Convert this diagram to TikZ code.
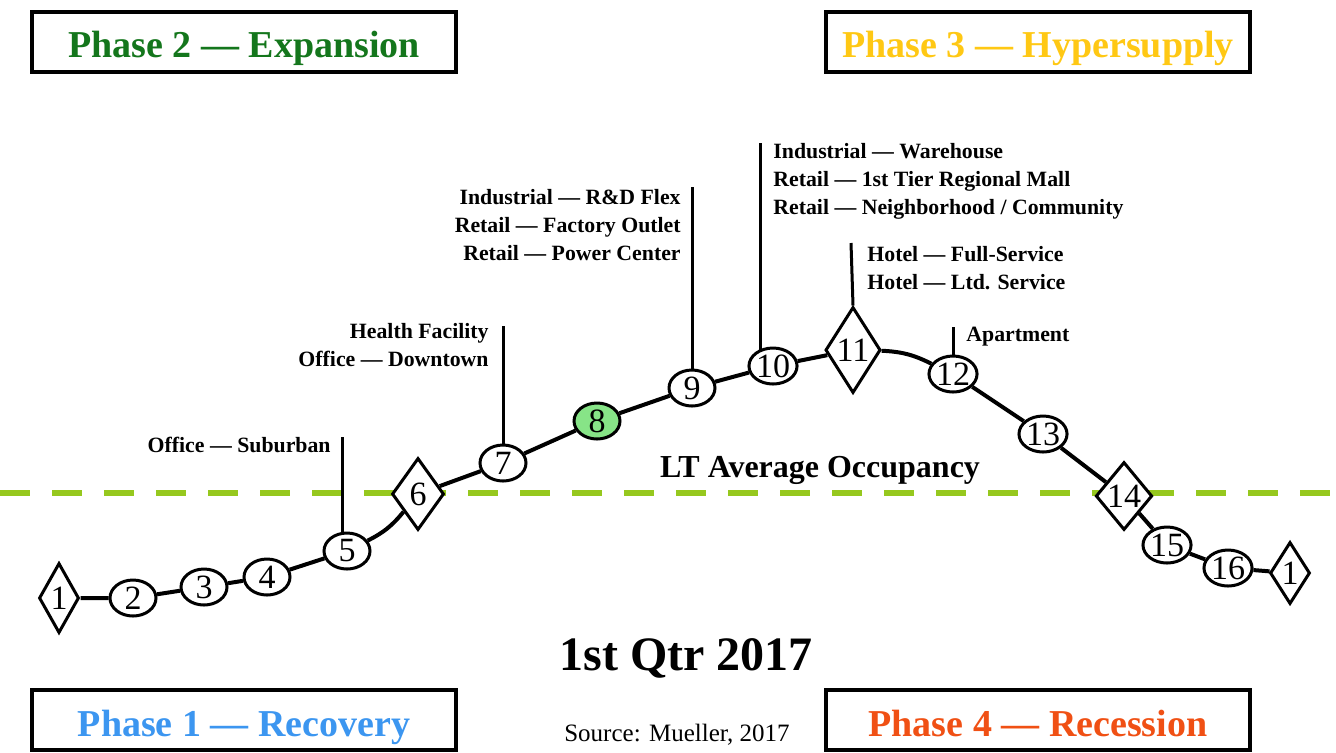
\documentclass[tikz,border=0pt]{standalone}
\usepackage{fontspec}
\setmainfont{Liberation Serif}
\usetikzlibrary{shapes.geometric}

\definecolor{recovery}{RGB}{60,150,240}
\definecolor{expansion}{RGB}{20,118,28}
\definecolor{hypersupply}{RGB}{255,200,20}
\definecolor{recession}{RGB}{240,80,20}
\definecolor{avgline}{RGB}{150,200,30}
\definecolor{nowfill}{RGB}{135,228,135}

\begin{document}
\begin{tikzpicture}[x=0.5pt, y=-0.5pt,
    phase/.style={draw, line width=2pt, minimum width=212pt, minimum height=30pt,
                  inner sep=0pt, text height=16pt, text depth=0pt,
                  font=\fontsize{19}{22}\selectfont\bfseries},
    stage/.style={ellipse, draw, line width=1.5pt, fill=white, minimum width=23pt,
                  minimum height=18pt, inner sep=0pt, font=\fontsize{17}{17}\selectfont},
    turn/.style={diamond, draw, line width=1.5pt, fill=white, inner sep=0pt,
                 font=\fontsize{17}{17}\selectfont},
    link/.style={line width=2pt},
    stem/.style={line width=1.5pt},
    sector/.style={inner sep=0pt, font=\fontsize{10.9}{14}\selectfont\bfseries}]
    \useasboundingbox (0,0) rectangle (1336,752);

    % phase boxes
    \node[phase, text=expansion]   (ph2) at (244,41.5)  {Phase 2 --- Expansion};
    \node[phase, text=hypersupply] (ph3) at (1038,41.5) {Phase 3 --- Hypersupply};
    \node[phase, text=recovery]    (ph1) at (244,720)   {Phase 1 --- Recovery};
    \node[phase, text=recession]   (ph4) at (1038,720)  {Phase 4 --- Recession};

    % long term average
    \coordinate (avgL) at (0,493);
    \coordinate (avgR) at (1336,493);
    \draw[avgline, line width=3pt, dash pattern=on 15pt off 11pt] (avgL) -- (avgR);
    \node[font=\fontsize{16}{16}\selectfont\bfseries] (avg) at (820,470) {LT Average Occupancy};

    % cycle points
    \node[turn, minimum width=20pt, minimum height=35pt] (n1) at (59,598) {1};
    \node[stage] (n2) at (133,598) {2};
    \node[stage] (n3) at (204,587) {3};
    \node[stage] (n4) at (267,577) {4};
    \node[stage] (n5) at (347,551) {5};
    \node[turn, minimum width=26pt, minimum height=36pt] (n6) at (418,494) {6};
    \node[stage] (n7) at (503,463) {7};
    \node[stage, fill=nowfill] (n8) at (597,421) {8};
    \node[stage] (n9) at (692,388) {9};
    \node[stage] (n10) at (773,366) {10};
    \node[turn, minimum width=27pt, minimum height=43pt] (n11) at (853,350) {11};
    \node[stage] (n12) at (953,374) {12};
    \node[stage] (n13) at (1043,434) {13};
    \node[turn, minimum width=25pt, minimum height=34pt] (n14) at (1124,496) {14};
    \node[stage] (n15) at (1167,545) {15};
    \node[stage] (n16) at (1228,568) {16};
    \node[turn, minimum width=20pt, minimum height=31pt] (n1b) at (1290,573) {1};

    \draw[link] (n1) -- (n2) -- (n3) -- (n4) -- (n5);
    \draw[link] (n5) to[bend right=12] (n6);
    \draw[link] (n6) -- (n7) -- (n8) -- (n9) -- (n10) -- (n11);
    \draw[link] (n11) to[bend left=12] (n12);
    \draw[link] (n12) -- (n13) -- (n14) -- (n15) -- (n16) -- (n1b);

    % property types
    \coordinate (top5) at (342,437);
    \coordinate (top7) at (503,326);
    \coordinate (top9) at (692,187);
    \coordinate (top10) at (760,143);
    \coordinate (top11) at (851,243);
    \coordinate (top12) at (953,327);
    \draw[stem] (top5) -- (top5 |- n5.north);
    \draw[stem] (top7) -- (n7.north);
    \draw[stem] (top9) -- (n9.north);
    \draw[stem] (top10) -- (top10 |- n10.north west);
    \draw[stem] (top11) -- (n11.north);
    \draw[stem] (top12) -- (n12.north);

    \node[sector, anchor=east] (s5) at (331,445) {Office --- Suburban};
    \node[sector, anchor=east, align=right] (s7) at (489,345) {Health Facility\\Office --- Downtown};
    \node[sector, anchor=east, align=right] (s9) at (681,225)
        {Industrial --- R\&D Flex\\Retail --- Factory Outlet\\Retail --- Power Center};
    \node[sector, anchor=west, align=left] (s10) at (773,181)
        {Industrial --- Warehouse\\Retail --- 1st Tier Regional Mall\\Retail --- Neighborhood / Community};
    \node[sector, anchor=west, align=left] (s11) at (867,268) {Hotel --- Full-Service\\Hotel --- Ltd. Service};
    \node[sector, anchor=west] (s12) at (966,337) {Apartment};

    % date and source
    \node[font=\fontsize{24}{24}\selectfont\bfseries] (qtr) at (686,658) {1st Qtr 2017};
    \node[font=\fontsize{12.5}{14}\selectfont] (src) at (677,735) {Source: Mueller, 2017};
\end{tikzpicture}
\end{document}
